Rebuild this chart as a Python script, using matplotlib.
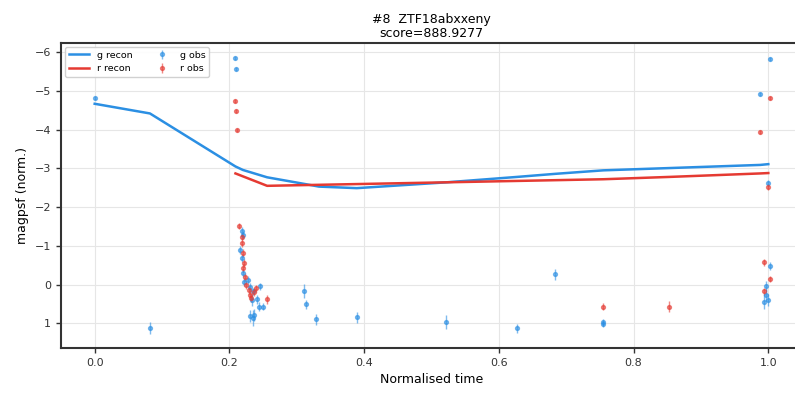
import matplotlib
matplotlib.use("Agg")
import matplotlib.pyplot as plt

# reconstructed curves
g_rec_t = [0.0, 0.082, 0.209, 0.220, 0.256, 0.311, 0.333, 0.389, 0.522, 0.627, 0.684, 0.755, 0.988, 1.0]
g_rec_m = [-4.67, -4.42, -3.05, -2.96, -2.77, -2.60, -2.53, -2.49, -2.64, -2.78, -2.86, -2.95, -3.09, -3.11]
r_rec_t = [0.209, 0.256, 0.755, 0.853, 0.988, 1.0]
r_rec_m = [-2.87, -2.55, -2.72, -2.78, -2.87, -2.88]

# g observations
g_t = [0.0, 0.082, 0.209, 0.210, 0.219, 0.220, 0.216, 0.218, 0.220, 0.222, 0.228, 0.231, 0.245,
       0.244, 0.235, 0.234, 0.241, 0.237, 0.235, 0.231, 0.250, 0.3105, 0.314, 0.329, 0.389, 0.522,
       0.627, 0.684, 0.754, 0.754, 0.988, 1.002, 1.0, 1.002, 0.996, 0.996, 0.994, 1.0]
g_m = [-4.82, 1.12, -5.85, -5.56, -1.39, -1.28, -0.89, -0.68, -0.29, -0.07, -0.12, 0.07, 0.05,
       0.57, 0.18, 0.40, 0.38, 0.79, 0.87, 0.81, 0.57, 0.16, 0.51, 0.90, 0.85, 0.96,
       1.13, -0.26, 0.98, 1.03, -4.92, -5.83, -2.62, -0.48, 0.05, 0.27, 0.44, 0.40]
g_err = [0.05, 0.15, 0.05, 0.05, 0.1, 0.1, 0.1, 0.1, 0.1, 0.1, 0.1, 0.1, 0.1,
         0.12, 0.1, 0.15, 0.12, 0.15, 0.2, 0.15, 0.1, 0.18, 0.12, 0.15, 0.15, 0.18,
         0.12, 0.15, 0.08, 0.08, 0.05, 0.05, 0.08, 0.1, 0.15, 0.15, 0.2, 0.15]

# r observations
r_t = [0.209, 0.210, 0.212, 0.214, 0.219, 0.218, 0.220, 0.221, 0.220, 0.223, 0.225, 0.229, 0.230,
       0.232, 0.236, 0.240, 0.256, 0.755, 0.853, 0.988, 1.002, 1.0, 0.993, 1.002, 0.994]
r_m = [-4.75, -4.49, -3.99, -1.52, -1.24, -1.07, -0.81, -0.55, -0.42, -0.20, 0.01, 0.14, 0.27,
       0.35, 0.20, 0.10, 0.38, 0.57, 0.57, -3.93, -4.83, -2.53, -0.57, -0.14, 0.18]
r_err = [0.05, 0.05, 0.05, 0.08, 0.1, 0.1, 0.1, 0.1, 0.1, 0.1, 0.1, 0.1, 0.1,
         0.1, 0.1, 0.1, 0.12, 0.08, 0.15, 0.05, 0.05, 0.08, 0.08, 0.08, 0.1]

BLUE = "#2b8fe3"
RED = "#e53a32"

fig = plt.figure(figsize=(7.95, 3.93), dpi=100)
ax = fig.add_axes([61 / 795, 45 / 393, 741 / 795, 305 / 393])

ax.plot(g_rec_t, g_rec_m, color=BLUE, lw=1.8, label="g recon", zorder=3)
ax.plot(r_rec_t, r_rec_m, color=RED, lw=1.8, label="r recon", zorder=3)
ax.errorbar(g_t, g_m, yerr=g_err, fmt="o", ms=2.8, color=BLUE, alpha=0.6,
            elinewidth=1.0, capsize=0, label="g obs", zorder=2)
ax.errorbar(r_t, r_m, yerr=r_err, fmt="o", ms=2.8, color=RED, alpha=0.6,
            elinewidth=1.0, capsize=0, label="r obs", zorder=2)

ax.set_xlim(-0.05, 1.05)
ax.set_ylim(1.64, -6.24)
ax.set_xticks([0.0, 0.2, 0.4, 0.6, 0.8, 1.0])
ax.set_yticks([1, 0, -1, -2, -3, -4, -5, -6])
ax.grid(True, color="#e6e6e6", lw=0.8)
ax.set_axisbelow(True)
for s in ["left", "bottom", "top"]:
    ax.spines[s].set_linewidth(1.5)
    ax.spines[s].set_color("#333333")
ax.spines["right"].set_visible(False)
ax.tick_params(labelsize=8, colors="#333333", width=1, length=3.5)
ax.set_xlabel("Normalised time", fontsize=9)
ax.set_ylabel("magpsf (norm.)", fontsize=9)
ax.set_title("#8  ZTF18abxxeny\nscore=888.9277", fontsize=9, linespacing=1.1, pad=4)
ax.legend(loc="upper left", ncol=2, fontsize=6.8, frameon=True, framealpha=0.9,
          handlelength=2.2, columnspacing=2.0, borderaxespad=0.4)

fig.savefig("out.png", dpi=100)
